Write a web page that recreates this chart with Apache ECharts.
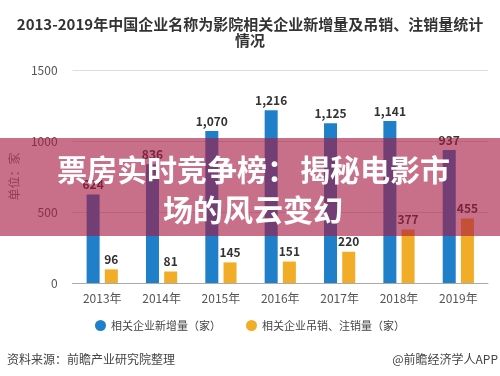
<!DOCTYPE html>
<html>
<head>
<meta charset="utf-8">
<script src="https://cdn.jsdelivr.net/npm/echarts@6/dist/echarts.min.js"></script>
<style>
  html, body { margin: 0; padding: 0; background: #fff; }
  #chart { width: 500px; height: 376px; }
</style>
</head>
<body>
<div id="chart"></div>
<script>
const years = ['2013年', '2014年', '2015年', '2016年', '2017年', '2018年', '2019年']
const newCount = [624, 836, 1070, 1216, 1125, 1141, 937]
const cancelCount = [96, 81, 145, 151, 220, 377, 455]
const seriesNames = ['相关企业新增量（家）', '相关企业吊销、注销量（家）']

const font = '"Noto Sans CJK SC", "Noto Sans", sans-serif'

// 数字加千分位
const fmt = (p) => p.value.toLocaleString('en-US')

// 横幅上的白字，左对齐
const bannerText = (text, x, y) => ({
    type: 'text',
    z: 101,
    x: x,
    y: y,
    style: {
        text: text,
        fill: '#fff', fontSize: 30, fontWeight: 'bold', fontFamily: font,
        align: 'left', verticalAlign: 'middle'
    }
})

const chart = echarts.init(document.getElementById('chart'))
const option = {
    textStyle: { fontFamily: font },
    title: {
        text: '2013-2019年中国企业名称为影院相关企业新增量及吊销、注销量统计\n情况',
        left: 'center',
        top: 11,
        textStyle: { fontSize: 15, fontWeight: 'bold', color: '#333', lineHeight: 16, fontFamily: font }
    },
    color: ['#1f7fc8', '#f2ad28'],
    legend: {
        bottom: 40,
        left: 'center',
        icon: 'circle',
        itemWidth: 11,
        itemHeight: 11,
        itemGap: 25,
        textStyle: { fontSize: 11, color: '#444' },
        data: seriesNames
    },
    grid: {
        left: 68,
        right: 12,
        top: 70,
        bottom: 93
    },
    xAxis: {
        type: 'category',
        data: years,
        axisLine: { lineStyle: { color: '#aaa' } },
        axisTick: { alignWithLabel: true, length: 4, lineStyle: { color: '#aaa' } },
        axisLabel: { color: '#555', fontSize: 12, margin: 9 }
    },
    yAxis: {
        type: 'value',
        min: 0,
        max: 1500,
        interval: 500,
        name: '单位：家',
        nameLocation: 'middle',
        nameRotate: 90,
        nameGap: 46,
        nameTextStyle: { color: '#777', fontSize: 12 },
        axisLine: { show: false },
        axisTick: { show: false },
        axisLabel: { color: '#555', fontSize: 12, margin: 15, formatter: (v) => String(v) },
        splitLine: { lineStyle: { color: '#ddd' } }
    },
    series: [
        {
            name: seriesNames[0],
            type: 'bar',
            data: newCount,
            barWidth: 13,
            barGap: '40%',
            label: { show: true, position: 'top', distance: 4, formatter: fmt, fontSize: 12, fontWeight: 'bold', color: '#333' }
        },
        {
            name: seriesNames[1],
            type: 'bar',
            data: cancelCount,
            barWidth: 13,
            label: { show: true, position: 'top', distance: 4, formatter: fmt, fontSize: 12, fontWeight: 'bold', color: '#333' }
        }
    ],
    graphic: [
        {
            type: 'text',
            left: 7,
            bottom: 11,
            style: { text: '资料来源：前瞻产业研究院整理', fill: '#444', fontSize: 12, fontFamily: font }
        },
        {
            type: 'text',
            right: 2,
            bottom: 11,
            style: { text: '@前瞻经济学人APP', fill: '#444', fontSize: 12, fontFamily: font }
        },
        // 上面盖的一条横幅
        {
            type: 'rect',
            z: 100,
            shape: { x: 0, y: 138, width: 500, height: 98 },
            style: { fill: 'rgba(166, 23, 65, 0.62)' }
        },
        bannerText('票房实时竞争榜：', 57, 170),
        bannerText('揭秘电影市', 300, 170),
        bannerText('场的风云变幻', 163, 210)
    ]
}
chart.setOption(option)
</script>
</body>
</html>
